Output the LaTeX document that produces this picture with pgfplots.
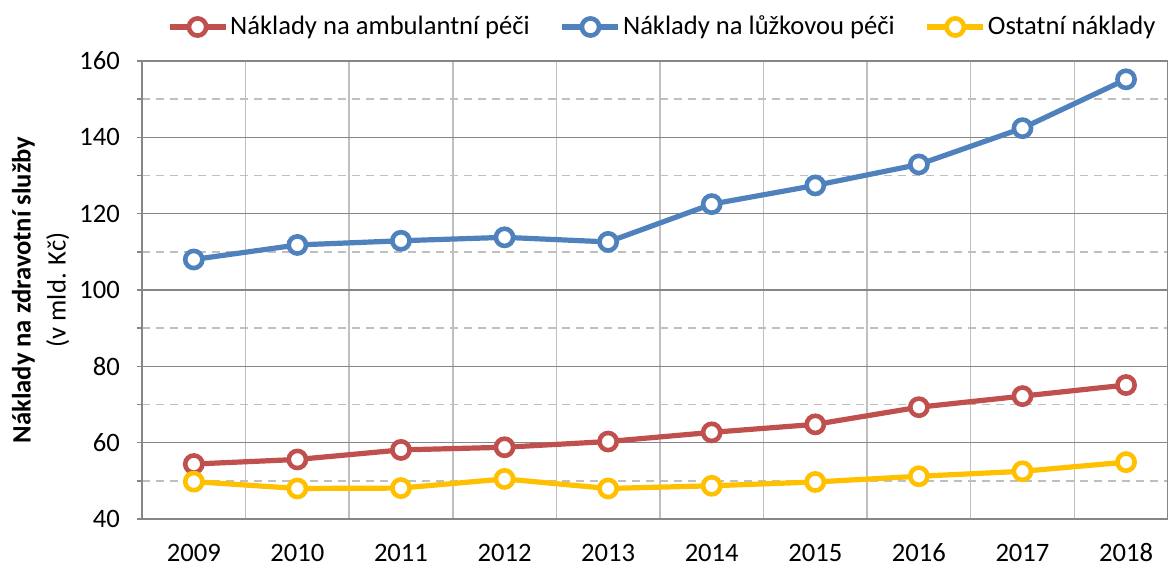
\documentclass[border=0pt]{standalone}
\usepackage{fontspec}
\setmainfont{Carlito}
\usepackage{pgfplots}
\pgfplotsset{compat=1.18}
\definecolor{cred}{HTML}{C0504D}
\definecolor{cblue}{HTML}{4F81BD}
\definecolor{cyel}{HTML}{FFC000}
\definecolor{axgray}{HTML}{868686}
\definecolor{grdgray}{HTML}{BFBFBF}
\begin{document}
\fontsize{13.3}{17.5}\selectfont
\begin{tikzpicture}
\begin{axis}[
  scale only axis, width=513pt, height=229pt,
  xmin=-0.5, xmax=9.405, ymin=40, ymax=160,
  font=\fontsize{13.3}{17.5}\selectfont,
  /pgf/number format/assume math mode=true,
  xtick={0,...,9}, xticklabels={2009,2010,2011,2012,2013,2014,2015,2016,2017,2018},
  xtick style={draw=none},
  minor xtick={0.5,1.5,...,8.5},
  xminorgrids, minor x grid style={grdgray, line width=0.75pt},
  ytick={40,60,...,160}, minor ytick={50,70,...,150},
  ymajorgrids, major y grid style={axgray, line width=0.75pt},
  yminorgrids, minor y grid style={grdgray, dashed, dash pattern=on 4pt off 3pt, line width=0.75pt},
  ytick style={axgray, line width=0.75pt},
  tick align=outside, tick pos=left,
  major tick length=2.5pt, minor tick length=2.5pt,
  axis line style={axgray, line width=0.75pt},
  xticklabel style={anchor=base, yshift=-18.7pt},
  yticklabel style={xshift=-4pt},
  every axis y label/.style={at={(axis description cs:-0.0989,0.5)}, rotate=90, anchor=center, align=center},
  ylabel={\textbf{Náklady na zdravotní služby}\\(v mld. Kč)},
  legend style={at={(axis description cs:0.507,1)}, anchor=center, yshift=17pt, draw=none, fill=none,
    legend columns=3, /tikz/every even column/.append style={column sep=14pt},
    nodes={inner xsep=1pt}},
  legend image code/.code={\draw[mark repeat=2,mark phase=2] plot coordinates {(0pt,0pt) (14pt,0pt) (28pt,0pt)};},
  every axis plot/.append style={line width=2.6pt, mark=*, mark size=4.3pt, mark options={fill=white, line width=2.3pt, solid}},
]
\addplot[cred] coordinates {(0,54.4) (1,55.6) (2,58.1) (3,58.8) (4,60.3) (5,62.7) (6,64.8) (7,69.3) (8,72.2) (9,75.1)};
\addlegendentry{Náklady na ambulantní péči}
\addplot[cblue] coordinates {(0,108.0) (1,111.8) (2,112.9) (3,113.8) (4,112.6) (5,122.5) (6,127.4) (7,132.9) (8,142.4) (9,155.2)};
\addlegendentry{Náklady na lůžkovou péči}
\addplot[cyel] coordinates {(0,49.8) (1,48.0) (2,48.1) (3,50.5) (4,48.0) (5,48.7) (6,49.7) (7,51.2) (8,52.5) (9,54.9)};
\addlegendentry{Ostatní náklady}
\end{axis}
\pgfresetboundingbox
\path[use as bounding box] ([xshift=-71pt,yshift=-24.5pt]current axis.south west) rectangle ([yshift=30.5pt]current axis.north east);
\end{tikzpicture}
\end{document}
